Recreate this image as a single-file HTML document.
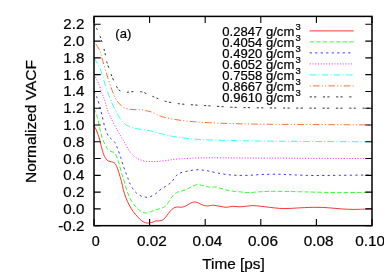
<!DOCTYPE html>
<html><head><meta charset="utf-8"><title>VACF</title>
<style>html,body{margin:0;padding:0;background:#fff}svg{display:block}text{font-family:"Liberation Sans",sans-serif;fill:#000;stroke:#000;stroke-width:0.22px}</style></head>
<body>
<div id="wrap" style="width:384px;height:275px;will-change:transform;transform:translateZ(0)">
<svg width="384" height="275" viewBox="0 0 384 275">
<rect width="384" height="275" fill="#fff"/>
<path d="M94.00,125.20 C94.45,126.17 95.83,128.87 96.70,131.00 C97.57,133.13 98.52,135.78 99.20,138.00 C99.88,140.22 100.12,141.72 100.80,144.30 C101.48,146.88 102.47,151.13 103.30,153.50 C104.13,155.87 104.97,157.25 105.80,158.50 C106.63,159.75 107.32,160.45 108.30,161.00 C109.28,161.55 110.58,161.38 111.70,161.80 C112.82,162.22 114.03,162.38 115.00,163.50 C115.97,164.62 116.67,166.33 117.50,168.50 C118.33,170.67 119.33,174.33 120.00,176.50 C120.67,178.67 120.95,179.33 121.50,181.50 C122.05,183.67 122.58,186.83 123.30,189.50 C124.02,192.17 124.82,194.92 125.80,197.50 C126.78,200.08 127.95,202.63 129.20,205.00 C130.45,207.37 131.92,209.75 133.30,211.70 C134.68,213.65 136.10,215.18 137.50,216.70 C138.90,218.22 140.32,219.78 141.70,220.80 C143.08,221.82 144.55,222.43 145.80,222.80 C147.05,223.17 147.95,223.15 149.20,223.00 C150.45,222.85 152.17,222.25 153.30,221.90 C154.43,221.55 154.88,221.08 156.00,220.90 C157.12,220.72 158.78,221.00 160.00,220.80 C161.22,220.60 162.18,220.53 163.30,219.70 C164.42,218.87 165.58,217.20 166.70,215.80 C167.82,214.40 168.90,212.55 170.00,211.30 C171.10,210.05 172.18,209.02 173.30,208.30 C174.42,207.58 175.45,207.18 176.70,207.00 C177.95,206.82 179.55,207.25 180.80,207.20 C182.05,207.15 183.08,207.07 184.20,206.70 C185.32,206.33 186.40,205.62 187.50,205.00 C188.60,204.38 189.68,203.50 190.80,203.00 C191.92,202.50 193.08,202.08 194.20,202.00 C195.32,201.92 196.40,202.13 197.50,202.50 C198.60,202.87 199.68,203.70 200.80,204.20 C201.92,204.70 203.08,205.20 204.20,205.50 C205.32,205.80 206.40,206.00 207.50,206.00 C208.60,206.00 209.78,205.62 210.80,205.50 C211.82,205.38 212.07,205.17 213.60,205.30 C215.13,205.43 217.87,205.97 220.00,206.30 C222.13,206.63 224.28,207.30 226.40,207.30 C228.52,207.30 230.58,206.38 232.70,206.30 C234.82,206.22 236.97,206.80 239.10,206.80 C241.23,206.80 243.17,206.50 245.50,206.30 C247.83,206.10 250.57,205.60 253.10,205.60 C255.63,205.60 257.95,206.02 260.70,206.30 C263.45,206.58 266.42,206.95 269.60,207.30 C272.78,207.65 276.40,208.22 279.80,208.40 C283.20,208.58 286.52,208.50 290.00,208.40 C293.48,208.30 296.37,207.98 300.70,207.80 C305.03,207.62 311.33,207.30 316.00,207.30 C320.67,207.30 324.47,207.53 328.70,207.80 C332.93,208.07 337.15,208.63 341.40,208.90 C345.65,209.17 349.53,209.40 354.20,209.40 C358.87,209.40 366.43,209.00 369.40,208.90 C372.37,208.80 371.57,208.82 372.00,208.80" stroke="#ff0000" stroke-width="0.80" fill="none"/>
<path d="M94.00,108.30 C94.58,109.87 96.50,114.20 97.50,117.70 C98.50,121.20 99.17,125.75 100.00,129.30 C100.83,132.85 101.67,136.50 102.50,139.00 C103.33,141.50 104.17,142.63 105.00,144.30 C105.83,145.97 106.53,147.83 107.50,149.00 C108.47,150.17 109.68,150.68 110.80,151.30 C111.92,151.92 113.22,151.78 114.20,152.70 C115.18,153.62 115.87,154.87 116.70,156.80 C117.53,158.73 118.37,161.52 119.20,164.30 C120.03,167.08 120.87,170.67 121.70,173.50 C122.53,176.33 123.37,178.55 124.20,181.30 C125.03,184.05 125.73,187.17 126.70,190.00 C127.67,192.83 128.75,195.80 130.00,198.30 C131.25,200.80 132.82,203.18 134.20,205.00 C135.58,206.82 136.92,208.00 138.30,209.20 C139.68,210.40 141.10,211.57 142.50,212.20 C143.90,212.83 145.45,213.03 146.70,213.00 C147.95,212.97 148.62,212.50 150.00,212.00 C151.38,211.50 153.33,210.55 155.00,210.00 C156.67,209.45 158.62,209.12 160.00,208.70 C161.38,208.28 162.18,208.12 163.30,207.50 C164.42,206.88 165.58,206.30 166.70,205.00 C167.82,203.70 168.90,201.32 170.00,199.70 C171.10,198.08 172.18,196.50 173.30,195.30 C174.42,194.10 175.45,193.17 176.70,192.50 C177.95,191.83 179.42,191.72 180.80,191.30 C182.18,190.88 183.60,190.55 185.00,190.00 C186.40,189.45 187.82,188.70 189.20,188.00 C190.58,187.30 191.92,186.35 193.30,185.80 C194.68,185.25 196.10,184.78 197.50,184.70 C198.90,184.62 200.32,185.00 201.70,185.30 C203.08,185.60 204.42,186.18 205.80,186.50 C207.18,186.82 208.27,187.12 210.00,187.20 C211.73,187.28 213.90,186.65 216.20,187.00 C218.50,187.35 221.25,188.63 223.80,189.30 C226.35,189.97 228.53,190.55 231.50,191.00 C234.47,191.45 238.63,191.73 241.60,192.00 C244.57,192.27 246.32,192.63 249.30,192.60 C252.28,192.57 255.68,192.02 259.50,191.80 C263.32,191.58 267.53,191.35 272.20,191.30 C276.87,191.25 282.53,191.42 287.50,191.50 C292.47,191.58 297.68,191.70 302.00,191.80 C306.32,191.90 307.25,191.97 313.40,192.10 C319.55,192.23 329.57,192.57 338.90,192.60 C348.23,192.63 363.88,192.37 369.40,192.30 C374.92,192.23 371.57,192.22 372.00,192.20" stroke="#00ff00" stroke-width="0.80" fill="none" stroke-dasharray="4.40,2.20"/>
<path d="M94.00,91.40 C94.45,92.30 95.83,94.65 96.70,96.80 C97.57,98.95 98.37,101.38 99.20,104.30 C100.03,107.22 100.73,110.40 101.70,114.30 C102.67,118.20 103.90,124.08 105.00,127.70 C106.10,131.32 107.30,134.17 108.30,136.00 C109.30,137.83 109.88,137.58 111.00,138.70 C112.12,139.82 113.92,141.07 115.00,142.70 C116.08,144.33 116.53,146.00 117.50,148.50 C118.47,151.00 119.83,154.78 120.80,157.70 C121.77,160.62 122.47,163.50 123.30,166.00 C124.13,168.50 124.97,170.48 125.80,172.70 C126.63,174.92 127.68,177.67 128.30,179.30 C128.92,180.93 128.80,181.00 129.50,182.50 C130.20,184.00 131.30,186.50 132.50,188.30 C133.70,190.10 135.17,191.97 136.70,193.30 C138.23,194.63 140.18,195.65 141.70,196.30 C143.22,196.95 144.42,197.13 145.80,197.20 C147.18,197.27 148.47,197.20 150.00,196.70 C151.53,196.20 153.33,195.32 155.00,194.20 C156.67,193.08 158.33,191.25 160.00,190.00 C161.67,188.75 163.33,187.82 165.00,186.70 C166.67,185.58 168.68,184.37 170.00,183.30 C171.32,182.23 171.78,181.65 172.90,180.30 C174.02,178.95 175.38,176.47 176.70,175.20 C178.02,173.93 179.13,173.35 180.80,172.70 C182.47,172.05 184.75,171.72 186.70,171.30 C188.65,170.88 190.57,170.47 192.50,170.20 C194.43,169.93 196.50,169.70 198.30,169.70 C200.10,169.70 201.63,169.98 203.30,170.20 C204.97,170.42 206.15,170.58 208.30,171.00 C210.45,171.42 213.18,172.12 216.20,172.70 C219.22,173.28 223.02,174.07 226.40,174.50 C229.78,174.93 232.68,175.17 236.50,175.30 C240.32,175.43 245.05,175.43 249.30,175.30 C253.55,175.17 257.35,174.68 262.00,174.50 C266.65,174.32 272.12,174.15 277.20,174.20 C282.28,174.25 286.47,174.58 292.50,174.80 C298.53,175.02 305.67,175.42 313.40,175.50 C321.13,175.58 329.13,175.38 338.90,175.30 C348.67,175.22 366.48,175.05 372.00,175.00" stroke="#0000ff" stroke-width="0.80" fill="none" stroke-dasharray="2.20,3.30"/>
<path d="M94.00,74.60 C94.72,75.95 97.02,79.68 98.30,82.70 C99.58,85.72 100.67,89.90 101.70,92.70 C102.73,95.50 103.67,97.00 104.50,99.50 C105.33,102.00 105.78,104.95 106.70,107.70 C107.62,110.45 108.62,112.95 110.00,116.00 C111.38,119.05 113.25,122.73 115.00,126.00 C116.75,129.27 118.90,132.83 120.50,135.60 C122.10,138.37 123.02,139.90 124.60,142.60 C126.18,145.30 128.27,149.43 130.00,151.80 C131.73,154.17 133.33,155.48 135.00,156.80 C136.67,158.12 138.05,158.95 140.00,159.70 C141.95,160.45 144.48,160.98 146.70,161.30 C148.92,161.62 151.37,161.60 153.30,161.60 C155.23,161.60 156.07,161.48 158.30,161.30 C160.53,161.12 163.92,160.83 166.70,160.50 C169.48,160.17 172.23,159.60 175.00,159.30 C177.77,159.00 180.52,158.88 183.30,158.70 C186.08,158.52 188.92,158.32 191.70,158.20 C194.48,158.08 197.23,158.07 200.00,158.00 C202.77,157.93 204.97,157.83 208.30,157.80 C211.63,157.77 214.72,157.77 220.00,157.80 C225.28,157.83 226.67,157.92 240.00,158.00 C253.33,158.08 278.00,158.22 300.00,158.30 C322.00,158.38 360.00,158.47 372.00,158.50" stroke="#ff00ff" stroke-width="0.80" fill="none" stroke-dasharray="1.10,1.65"/>
<path d="M94.00,57.90 C95.00,59.67 98.17,64.10 100.00,68.50 C101.83,72.90 103.37,79.38 105.00,84.30 C106.63,89.22 108.42,94.38 109.80,98.00 C111.18,101.62 112.02,103.28 113.30,106.00 C114.58,108.72 116.10,111.85 117.50,114.30 C118.90,116.75 120.17,118.88 121.70,120.70 C123.23,122.52 124.77,123.98 126.70,125.20 C128.63,126.42 131.08,127.33 133.30,128.00 C135.52,128.67 137.77,128.83 140.00,129.20 C142.23,129.57 144.48,129.82 146.70,130.20 C148.92,130.58 151.05,130.95 153.30,131.50 C155.55,132.05 157.35,132.77 160.20,133.50 C163.05,134.23 166.67,135.17 170.40,135.90 C174.13,136.63 178.53,137.35 182.60,137.90 C186.67,138.45 190.05,138.85 194.80,139.20 C199.55,139.55 204.98,139.78 211.10,140.00 C217.22,140.22 223.87,140.33 231.50,140.50 C239.13,140.67 245.48,140.85 256.90,141.00 C268.32,141.15 280.82,141.27 300.00,141.40 C319.18,141.53 360.00,141.73 372.00,141.80" stroke="#00ffff" stroke-width="0.80" fill="none" stroke-dasharray="6.60,2.20,1.10,2.20"/>
<path d="M94.00,41.10 C95.00,42.75 98.63,48.02 100.00,51.00 C101.37,53.98 101.08,55.12 102.20,59.00 C103.32,62.88 105.12,69.25 106.70,74.30 C108.28,79.35 110.23,85.27 111.70,89.30 C113.17,93.33 114.25,96.13 115.50,98.50 C116.75,100.87 117.90,102.03 119.20,103.50 C120.50,104.97 121.78,106.38 123.30,107.30 C124.82,108.22 126.35,108.60 128.30,109.00 C130.25,109.40 132.77,109.55 135.00,109.70 C137.23,109.85 139.48,109.65 141.70,109.90 C143.92,110.15 146.37,110.73 148.30,111.20 C150.23,111.67 151.32,111.88 153.30,112.70 C155.28,113.52 157.35,115.12 160.20,116.10 C163.05,117.08 166.67,117.85 170.40,118.60 C174.13,119.35 178.53,120.07 182.60,120.60 C186.67,121.13 190.73,121.47 194.80,121.80 C198.87,122.13 200.88,122.30 207.00,122.60 C213.12,122.90 223.18,123.35 231.50,123.60 C239.82,123.85 245.48,123.95 256.90,124.10 C268.32,124.25 280.82,124.37 300.00,124.50 C319.18,124.63 360.00,124.83 372.00,124.90" stroke="#ff4d00" stroke-width="0.80" fill="none" stroke-dasharray="1.10,2.20,6.60,2.20,1.10,2.20"/>
<path d="M94.00,24.30 C94.45,25.00 95.65,26.42 96.70,28.50 C97.75,30.58 98.97,32.92 100.30,36.80 C101.63,40.68 103.63,47.68 104.70,51.80 C105.77,55.92 105.53,57.47 106.70,61.50 C107.87,65.53 110.03,71.78 111.70,76.00 C113.37,80.22 115.32,84.35 116.70,86.80 C118.08,89.25 118.48,89.78 120.00,90.70 C121.52,91.62 123.85,92.13 125.80,92.30 C127.75,92.47 129.33,91.82 131.70,91.70 C134.07,91.58 137.78,91.38 140.00,91.60 C142.22,91.82 143.25,92.35 145.00,93.00 C146.75,93.65 148.65,94.70 150.50,95.50 C152.35,96.30 153.63,96.83 156.10,97.80 C158.57,98.77 161.57,100.32 165.30,101.30 C169.03,102.28 174.27,103.13 178.50,103.70 C182.73,104.27 186.62,104.40 190.70,104.70 C194.78,105.00 199.27,105.28 203.00,105.50 C206.73,105.72 208.35,105.72 213.10,106.00 C217.85,106.28 224.20,106.90 231.50,107.20 C238.80,107.50 246.32,107.65 256.90,107.80 C267.48,107.95 275.82,108.03 295.00,108.10 C314.18,108.17 359.17,108.18 372.00,108.20" stroke="#000000" stroke-width="0.80" fill="none" stroke-dasharray="2.20,2.20,2.20,6.60"/>
<path d="M309.70,30.90H353.70" stroke="#ff0000" stroke-width="0.80" fill="none"/>
<text x="222.30" y="35.80" font-size="13.30" textLength="72.00" lengthAdjust="spacingAndGlyphs">0.2847 g/cm</text>
<text x="295.40" y="29.90" font-size="9.80" textLength="5.30" lengthAdjust="spacingAndGlyphs">3</text>
<path d="M309.70,41.90H353.70" stroke="#00ff00" stroke-width="0.80" fill="none" stroke-dasharray="4.40,2.20"/>
<text x="222.30" y="46.80" font-size="13.30" textLength="72.00" lengthAdjust="spacingAndGlyphs">0.4054 g/cm</text>
<text x="295.40" y="40.90" font-size="9.80" textLength="5.30" lengthAdjust="spacingAndGlyphs">3</text>
<path d="M309.70,52.90H353.70" stroke="#0000ff" stroke-width="0.80" fill="none" stroke-dasharray="2.20,3.30"/>
<text x="222.30" y="57.80" font-size="13.30" textLength="72.00" lengthAdjust="spacingAndGlyphs">0.4920 g/cm</text>
<text x="295.40" y="51.90" font-size="9.80" textLength="5.30" lengthAdjust="spacingAndGlyphs">3</text>
<path d="M309.70,63.90H353.70" stroke="#ff00ff" stroke-width="0.80" fill="none" stroke-dasharray="1.10,1.65"/>
<text x="222.30" y="68.80" font-size="13.30" textLength="72.00" lengthAdjust="spacingAndGlyphs">0.6052 g/cm</text>
<text x="295.40" y="62.90" font-size="9.80" textLength="5.30" lengthAdjust="spacingAndGlyphs">3</text>
<path d="M309.70,74.90H353.70" stroke="#00ffff" stroke-width="0.80" fill="none" stroke-dasharray="6.60,2.20,1.10,2.20"/>
<text x="222.30" y="79.80" font-size="13.30" textLength="72.00" lengthAdjust="spacingAndGlyphs">0.7558 g/cm</text>
<text x="295.40" y="73.90" font-size="9.80" textLength="5.30" lengthAdjust="spacingAndGlyphs">3</text>
<path d="M309.70,85.90H353.70" stroke="#ff4d00" stroke-width="0.80" fill="none" stroke-dasharray="1.10,2.20,6.60,2.20,1.10,2.20"/>
<text x="222.30" y="90.80" font-size="13.30" textLength="72.00" lengthAdjust="spacingAndGlyphs">0.8667 g/cm</text>
<text x="295.40" y="84.90" font-size="9.80" textLength="5.30" lengthAdjust="spacingAndGlyphs">3</text>
<path d="M309.70,96.90H353.70" stroke="#000000" stroke-width="0.80" fill="none" stroke-dasharray="2.20,2.20,2.20,6.60"/>
<text x="222.30" y="101.80" font-size="13.30" textLength="72.00" lengthAdjust="spacingAndGlyphs">0.9610 g/cm</text>
<text x="295.40" y="95.90" font-size="9.80" textLength="5.30" lengthAdjust="spacingAndGlyphs">3</text>
<path d="M94.00,225.68h6.70 M372.00,225.68h-6.70 M94.00,208.90h6.70 M372.00,208.90h-6.70 M94.00,192.12h6.70 M372.00,192.12h-6.70 M94.00,175.34h6.70 M372.00,175.34h-6.70 M94.00,158.56h6.70 M372.00,158.56h-6.70 M94.00,141.78h6.70 M372.00,141.78h-6.70 M94.00,125.00h6.70 M372.00,125.00h-6.70 M94.00,108.22h6.70 M372.00,108.22h-6.70 M94.00,91.44h6.70 M372.00,91.44h-6.70 M94.00,74.66h6.70 M372.00,74.66h-6.70 M94.00,57.88h6.70 M372.00,57.88h-6.70 M94.00,41.10h6.70 M372.00,41.10h-6.70 M94.00,24.32h6.70 M372.00,24.32h-6.70 M94.00,225.68v-6.70 M94.00,16.40v6.70 M149.60,225.68v-6.70 M149.60,16.40v6.70 M205.20,225.68v-6.70 M205.20,16.40v6.70 M260.80,225.68v-6.70 M260.80,16.40v6.70 M316.40,225.68v-6.70 M316.40,16.40v6.70 M372.00,225.68v-6.70 M372.00,16.40v6.70" stroke="#000" stroke-width="1.10" fill="none"/>
<rect x="94.00" y="16.40" width="278.00" height="209.28" fill="none" stroke="#000" stroke-width="1.50"/>
<text x="58.30" y="230.68" font-size="14.60" textLength="26.00" lengthAdjust="spacingAndGlyphs">-0.2</text>
<text x="63.30" y="213.90" font-size="14.60" textLength="21.00" lengthAdjust="spacingAndGlyphs">0.0</text>
<text x="63.30" y="197.12" font-size="14.60" textLength="21.00" lengthAdjust="spacingAndGlyphs">0.2</text>
<text x="63.30" y="180.34" font-size="14.60" textLength="21.00" lengthAdjust="spacingAndGlyphs">0.4</text>
<text x="63.30" y="163.56" font-size="14.60" textLength="21.00" lengthAdjust="spacingAndGlyphs">0.6</text>
<text x="63.30" y="146.78" font-size="14.60" textLength="21.00" lengthAdjust="spacingAndGlyphs">0.8</text>
<text x="63.30" y="130.00" font-size="14.60" textLength="21.00" lengthAdjust="spacingAndGlyphs">1.0</text>
<text x="63.30" y="113.22" font-size="14.60" textLength="21.00" lengthAdjust="spacingAndGlyphs">1.2</text>
<text x="63.30" y="96.44" font-size="14.60" textLength="21.00" lengthAdjust="spacingAndGlyphs">1.4</text>
<text x="63.30" y="79.66" font-size="14.60" textLength="21.00" lengthAdjust="spacingAndGlyphs">1.6</text>
<text x="63.30" y="62.88" font-size="14.60" textLength="21.00" lengthAdjust="spacingAndGlyphs">1.8</text>
<text x="63.30" y="46.10" font-size="14.60" textLength="21.00" lengthAdjust="spacingAndGlyphs">2.0</text>
<text x="63.30" y="29.32" font-size="14.60" textLength="21.00" lengthAdjust="spacingAndGlyphs">2.2</text>
<text x="91.80" y="246.30" font-size="14.60" textLength="8.00" lengthAdjust="spacingAndGlyphs">0</text>
<text x="136.90" y="246.30" font-size="14.60" textLength="29.80" lengthAdjust="spacingAndGlyphs">0.02</text>
<text x="192.50" y="246.30" font-size="14.60" textLength="29.80" lengthAdjust="spacingAndGlyphs">0.04</text>
<text x="248.10" y="246.30" font-size="14.60" textLength="29.80" lengthAdjust="spacingAndGlyphs">0.06</text>
<text x="303.70" y="246.30" font-size="14.60" textLength="29.80" lengthAdjust="spacingAndGlyphs">0.08</text>
<text x="355.30" y="246.30" font-size="14.60" textLength="29.80" lengthAdjust="spacingAndGlyphs">0.10</text>
<text x="202.30" y="268.50" font-size="14.60" textLength="62.50" lengthAdjust="spacingAndGlyphs">Time [ps]</text>
<text transform="translate(36.00,183.00) rotate(-90)" font-size="14.60" textLength="123.00" lengthAdjust="spacingAndGlyphs">Normalized VACF</text>
<text x="115.30" y="38.00" font-size="13.30" textLength="16.00" lengthAdjust="spacingAndGlyphs">(a)</text>
</svg>
</div>
</body></html>
